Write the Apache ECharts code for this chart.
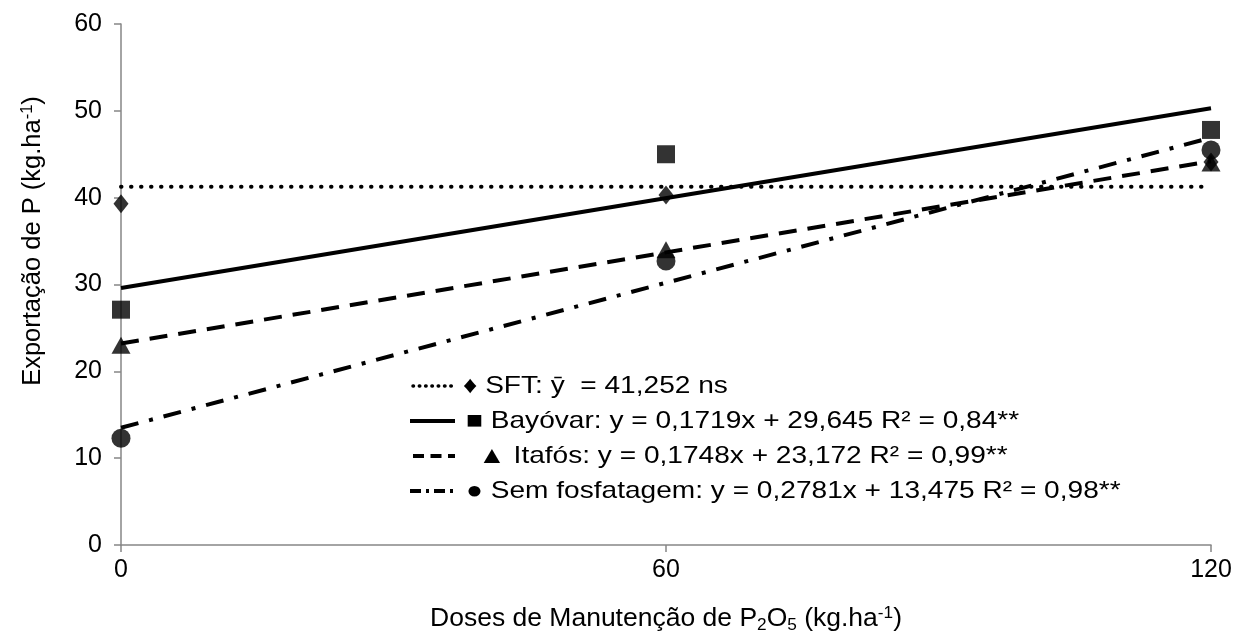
<!DOCTYPE html>
<html>
<head>
<meta charset="utf-8">
<script src="https://cdn.jsdelivr.net/npm/echarts@6/dist/echarts.min.js"></script>
<style>html,body{margin:0;padding:0;background:#fff}#c{width:1235px;height:635px}</style>
</head>
<body>
<div id="c"></div>
<script>
// Doses (x) and observed values
const doses = [0, 60, 120];
const sftVals = [39.3, 40.3, 44.1];
const bayovarVals = [27.1, 45.0, 47.8];
const itafosVals = [23.0, 34.0, 44.0];
const semVals = [12.3, 32.7, 45.5];
// trendline endpoints
const trendX = [0, 120];
const sftTrend = [41.25, 41.25];
const bayovarTrend = [29.6, 50.3];
const itafosTrend = [23.2, 44.2];
const semTrend = [13.5, 46.9];
// tick labels
const xTicks = [0, 60, 120];
const yTicks = [0, 10, 20, 30, 40, 50, 60];
const legendTexts = [
  '♦ SFT: ȳ  = 41,252 ns',
  '■ Bayóvar: y = 0,1719x + 29,645 R² = 0,84**',
  '▲ Itafós: y = 0,1748x + 23,172 R² = 0,99**',
  '● Sem fosfatagem: y = 0,2781x + 13,475 R² = 0,98**'
];

const pair = (xs, ys) => xs.map((x, i) => [x, ys[i]]);
const FONT = '"Liberation Sans", Arial, sans-serif';
const axisCol = '#868686';

const chart = echarts.init(document.getElementById('c'), null, {renderer: 'canvas'});

const lineStyles = [
  {type: [0.5, 9.5], cap: 'round', width: 4, color: '#000'},
  {type: 'solid', width: 4, color: '#000'},
  {type: [18, 11], width: 4, color: '#000'},
  {type: [18, 11, 4, 11], width: 4, color: '#000'}
];
const legendDash = [[0.5, 5.8], null, [11, 6.5], [11, 5, 3, 5]];
const symbols = ['diamond', 'rect', 'triangle', 'circle'];
const symSizes = [[15, 19], 18, [19, 17], 19];
const vals = [sftVals, bayovarVals, itafosVals, semVals];
const trends = [sftTrend, bayovarTrend, itafosTrend, semTrend];

const series = [];
for (let k = 0; k < 4; k++) {
  series.push({
    type: 'line', data: pair(trendX, trends[k]), showSymbol: false, symbol: 'none',
    lineStyle: lineStyles[k], silent: true, z: 3, animation: false
  });
}
for (let k = 0; k < 4; k++) {
  series.push({
    type: 'scatter', data: pair(doses, vals[k]), symbol: symbols[k], symbolSize: symSizes[k],
    itemStyle: {color: '#000'}, z: 2, animation: false
  });
}

const legendRows = [
  {y: 386, x1: 413, tx: 463},
  {y: 421, x1: 410, tx: 466},
  {y: 456, x1: 413, tx: 478},
  {y: 491, x1: 410, tx: 466}
];
const graphics = [];
legendRows.forEach((r, k) => {
  graphics.push({
    type: 'line', shape: {x1: r.x1, y1: r.y, x2: 455, y2: r.y},
    style: {stroke: '#000', lineWidth: k === 0 ? 3.5 : 4, lineDash: legendDash[k], lineCap: k === 0 ? 'round' : 'butt'}
  });
  graphics.push({
    type: 'text', x: r.tx, y: r.y, scaleX: 1.17, originX: 0, originY: 0,
    style: {text: legendTexts[k], font: '24px ' + FONT, fill: '#000', textVerticalAlign: 'middle'}
  });
});

const richT = (fs) => ({
  n: {fontSize: fs, fontFamily: FONT, color: '#000', lineHeight: 32, verticalAlign: 'middle'},
  sub: {fontSize: fs * 0.65, fontFamily: FONT, color: '#000', lineHeight: 32, padding: [12, 0, 0, 0], verticalAlign: 'middle'},
  sup: {fontSize: fs * 0.65, fontFamily: FONT, color: '#000', lineHeight: 32, padding: [0, 0, 12, 0], verticalAlign: 'middle'}
});

graphics.push({
  type: 'text', x: 33, y: 241, rotation: Math.PI / 2,
  style: {text: '{n|Exportação de P (kg.ha}{sup|-1}{n|)}', rich: richT(25.5), align: 'center', verticalAlign: 'middle', textAlign: 'center', textVerticalAlign: 'middle'}
});
graphics.push({
  type: 'text', x: 666, y: 619,
  style: {text: '{n|Doses de Manutenção de P}{sub|2}{n|O}{sub|5}{n| (kg.ha}{sup|-1}{n|)}', rich: richT(26.5), align: 'center', verticalAlign: 'middle', textAlign: 'center', textVerticalAlign: 'middle'}
});

chart.setOption({
  animation: false,
  grid: {left: 121, right: 24, top: 24, bottom: 90, containLabel: false},
  xAxis: {
    type: 'value', min: 0, max: 120, interval: 60,
    axisLine: {show: true, lineStyle: {color: axisCol, width: 1.5}},
    axisTick: {show: true, length: 7, lineStyle: {color: axisCol, width: 1.5}},
    splitLine: {show: false},
    axisLabel: {color: '#000', fontSize: 25, fontFamily: FONT, margin: 13, formatter: v => xTicks.includes(v) ? String(v) : ''}
  },
  yAxis: {
    type: 'value', min: 0, max: 60, interval: 10,
    axisLine: {show: true, lineStyle: {color: axisCol, width: 1.5}},
    axisTick: {show: true, length: 7, lineStyle: {color: axisCol, width: 1.5}},
    splitLine: {show: false},
    axisLabel: {color: '#000', fontSize: 25, fontFamily: FONT, margin: 19, formatter: v => yTicks.includes(v) ? String(v) : ''}
  },
  series: series,
  graphic: graphics
});
</script>
</body>
</html>
